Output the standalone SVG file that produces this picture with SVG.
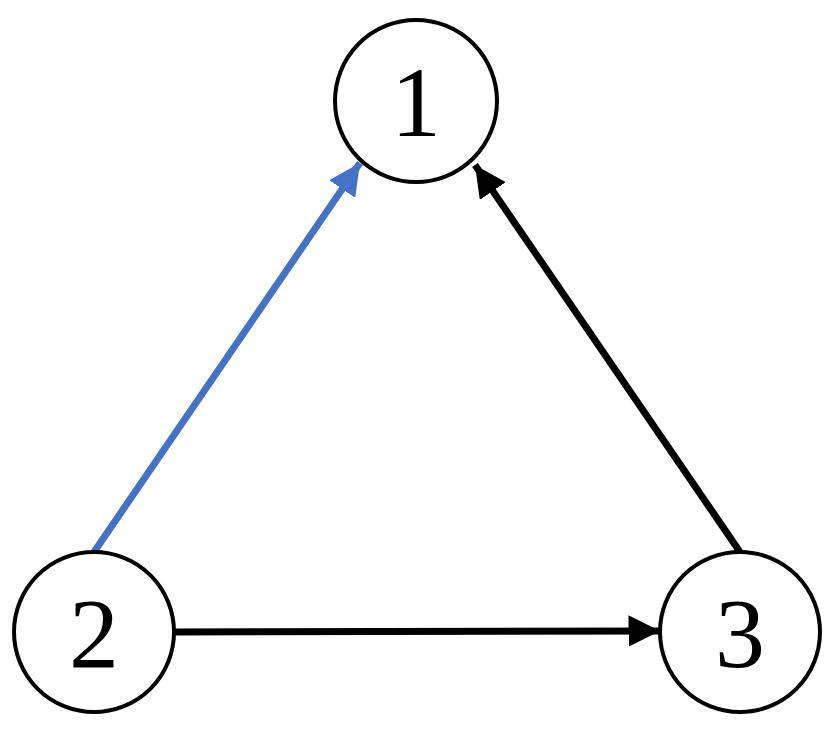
<svg xmlns="http://www.w3.org/2000/svg" width="829" height="746" viewBox="0 0 829 746">
<style>
.n{fill:#fff;stroke:#000;stroke-width:4}
.t{font-family:"Liberation Serif",serif;font-size:100px;text-anchor:middle}
.e{stroke-width:7;fill:none}
</style>
<defs>
<marker id="ab" viewBox="0 0 10 10" refX="10" refY="5" markerWidth="4.5" markerHeight="4.5" orient="auto" markerUnits="strokeWidth"><path d="M0,0L10,5L0,10z" fill="#000"/></marker>
<marker id="ablue" viewBox="0 0 10 10" refX="10" refY="5" markerWidth="4.5" markerHeight="4.5" orient="auto" markerUnits="strokeWidth"><path d="M0,0L10,5L0,10z" fill="#4472C4"/></marker>
</defs>
<g id="connectors">
<line class="e" x1="94" y1="552" x2="360" y2="163" stroke="#4472C4" marker-end="url(#ablue)"/>
<line class="e" x1="740" y1="552" x2="475" y2="165" stroke="#000" marker-end="url(#ab)"/>
<line class="e" x1="175" y1="632" x2="660" y2="631" stroke="#000" marker-end="url(#ab)"/>
</g>
<g id="node1"><circle class="n" cx="416" cy="101" r="81"/><text class="t" x="416" y="136">1</text></g>
<g id="node2"><circle class="n" cx="94" cy="632" r="80"/><text class="t" x="94" y="667">2</text></g>
<g id="node3"><circle class="n" cx="740" cy="632" r="80"/><text class="t" x="740" y="667">3</text></g>
</svg>
